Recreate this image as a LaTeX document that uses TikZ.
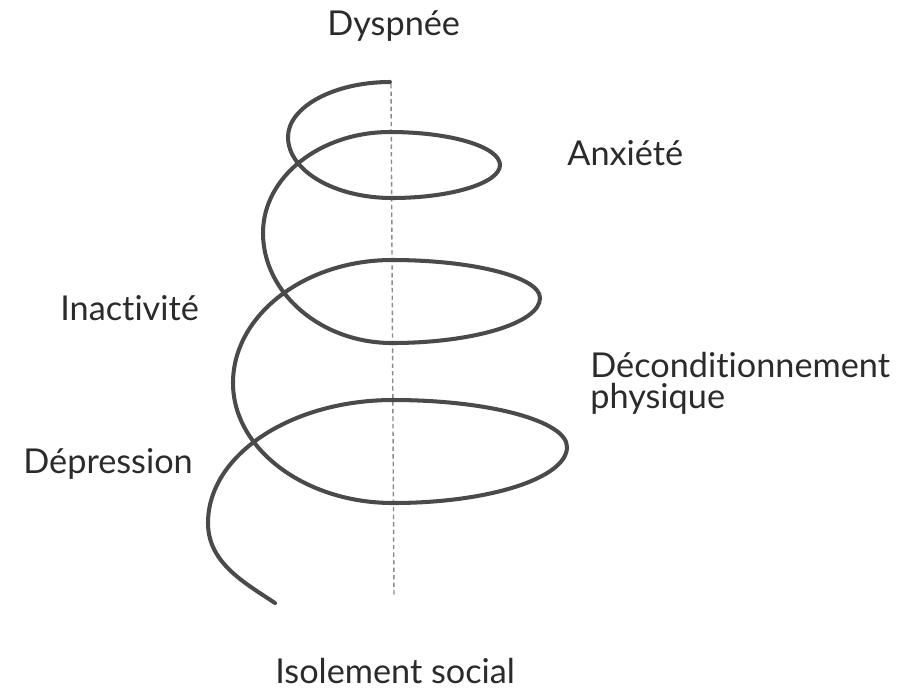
\documentclass[tikz,border=0pt]{standalone}
\usepackage{fontspec}
\setmainfont{Lato}[Ligatures={NoCommon,NoRare}]
\usepackage{tikz}
\usetikzlibrary{
    positioning,
    calc,
}
\definecolor{spiralgray}{HTML}{4A4A4A}
\definecolor{textgray}{HTML}{2B2B2B}
\definecolor{axisgray}{HTML}{8A8A8A}

\begin{document}
\begin{tikzpicture}[
    x=0.02cm, y=-0.02cm,
    spiral/.style={line width=2.3pt, draw=spiralgray, line cap=round},
    axisline/.style={draw=axisgray, line width=0.8pt, dash pattern=on 2.5pt off 1.8pt},
    symptom/.style={text=textgray, font=\fontsize{19.5}{17.6}\selectfont, anchor=base west, inner sep=0pt, align=left},
]
\useasboundingbox (0,0) rectangle (902,691);

% points of the spiral, back / left / front / right of each turn
\coordinate (back0) at (390,82);
\coordinate (left0) at (288,137);
\coordinate (front1) at (392,198);
\coordinate (right1) at (500,165);
\coordinate (back1) at (390,132);
\coordinate (left1) at (263,233);
\coordinate (front2) at (392,343);
\coordinate (right2) at (540,298);
\coordinate (back2) at (392,260);
\coordinate (left2) at (233,383);
\coordinate (front3) at (393,503);
\coordinate (right3) at (567,447);
\coordinate (back3) at (393,400);
\coordinate (left3) at (208,523);
\coordinate (tail) at (275,603);

\coordinate (axtop) at (391,84);
\coordinate (axbot) at (394,597);

\draw[axisline] (axtop) -- (axbot);

\draw[spiral] (back0)
    .. controls +(-56,0) and +(0,-30) .. (left0)
    .. controls +(0,34) and +(-57,0) .. (front1)
    .. controls +(59,0) and +(0,18) .. (right1)
    .. controls +(0,-18) and +(61,0) .. (back1)
    .. controls +(-70,0) and +(0,-56) .. (left1)
    .. controls +(0,60) and +(-71,0) .. (front2)
    .. controls +(81,0) and +(0,25) .. (right2)
    .. controls +(0,-21) and +(81,0) .. (back2)
    .. controls +(-87,0) and +(0,-68) .. (left2)
    .. controls +(0,66) and +(-88,0) .. (front3)
    .. controls +(96,0) and +(0,31) .. (right3)
    .. controls +(0,-26) and +(96,0) .. (back3)
    .. controls +(-102,0) and +(0,-68) .. (left3)
    .. controls +(0,40) and +(-30,-20) .. (tail);

\node[symptom] (dyspnee) at (327,35) {Dyspnée};
\node[symptom] (anxiete) at (567,165) {Anxiété};
\node[symptom] (inactivite) at (60,320) {Inactivité};
\node[symptom] (decond) at (590,408) {Déconditionnement\\physique};
\node[symptom] (depression) at (23,473) {Dépression};
\node[symptom] (isolement) at (275,683) {Isolement social};

\end{tikzpicture}
\end{document}
